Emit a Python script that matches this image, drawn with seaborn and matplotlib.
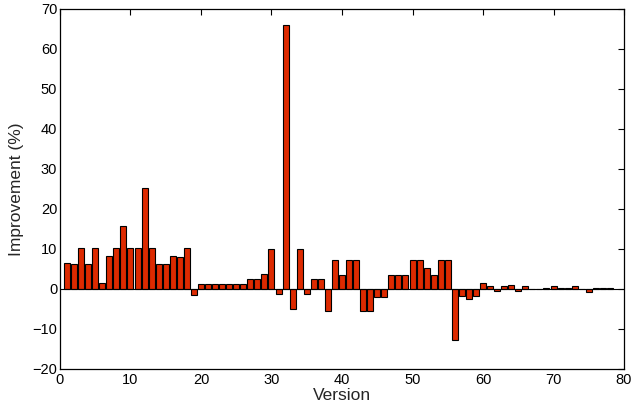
import matplotlib
matplotlib.use("Agg")
import matplotlib.pyplot as plt
import seaborn as sns
import numpy as np

sns.set_theme(style="white")
plt.rcParams['font.family'] = ['Liberation Sans', 'DejaVu Sans']

# improvement per version
versions = list(range(1, 79))
improvement = [
    6.5, 6.25, 10.25, 6.25, 10.25, 1.5, 8.25, 10.25, 15.75, 10.25,
    10.25, 25.25, 10.25, 6.25, 6.25, 8.25, 8.0, 10.25, -1.5, 1.25,
    1.25, 1.25, 1.25, 1.25, 1.25, 1.25, 2.5, 2.5, 3.75, 10.0,
    -1.25, 66.1, -5.0, 10.0, -1.25, 2.5, 2.5, -5.4, 7.25, 3.5,
    7.25, 7.25, -5.5, -5.5, -1.9, -1.9, 3.5, 3.5, 3.5, 7.25,
    7.25, 5.3, 3.5, 7.25, 7.25, -12.75, -1.7, -2.5, -1.7, 1.5,
    0.8, -0.5, 0.7, 1.0, -0.5, 0.7, 0.1, 0.1, 0.25, 0.75,
    0.3, 0.3, 0.75, 0.05, -0.75, 0.25, 0.3, 0.25,
]

fig = plt.figure(figsize=(6.31, 4.09), dpi=100)
ax = fig.add_axes([0.095, 0.098, 0.894, 0.880])

sns.barplot(x=versions, y=improvement, native_scale=True, width=0.85,
            color='#dd2a00', saturation=1, edgecolor='black', linewidth=0.8,
            errorbar=None, ax=ax)

ax.axhline(0, color='black', lw=0.8, zorder=3)

ax.set_xlim(0, 80)
ax.set_ylim(-20, 70)
ax.set_xticks(np.arange(0, 81, 10))
ax.set_yticks(np.arange(-20, 71, 10))
ax.set_xticklabels([str(t) for t in range(0, 81, 10)])
ax.set_yticklabels([f"\u2212{abs(t)}" if t < 0 else str(t) for t in range(-20, 71, 10)])
ax.tick_params(direction='in', length=4, width=0.8, top=True, right=True,
               labelsize=10.5, colors='black', pad=2)
ax.tick_params(axis='x', pad=3)
for s in ax.spines.values():
    s.set_visible(True)
    s.set_color('black')
    s.set_linewidth(0.9)

ax.set_xlabel('Version', fontsize=12.5, labelpad=1)
ax.set_ylabel('Improvement (%)', fontsize=12.5, labelpad=6)
ax.grid(False)

fig.savefig('out.png', dpi=100)
